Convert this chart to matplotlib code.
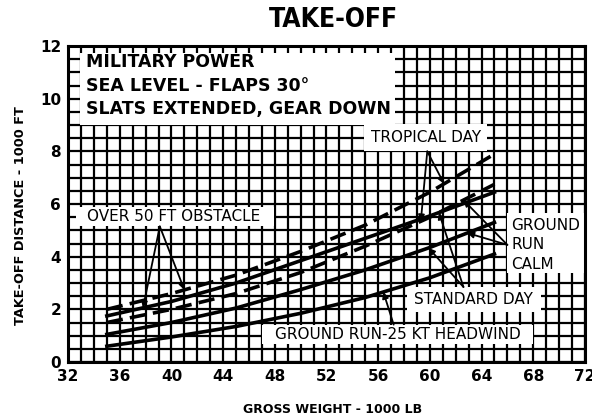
import numpy as np
import matplotlib
matplotlib.use("Agg")
import matplotlib.pyplot as plt
from matplotlib.patches import Rectangle

# ---- data ----
weight = [35, 40, 45, 50, 55, 60, 65]                 # gross weight, 1000 lb
tropical_obstacle = [2.0, 2.6, 3.3, 4.2, 5.2, 6.45, 7.9]
standard_obstacle = [1.75, 2.3, 3.0, 3.85, 4.7, 5.55, 6.45]
tropical_ground = [1.5, 2.0, 2.6, 3.4, 4.4, 5.5, 6.75]
standard_ground = [1.05, 1.5, 2.05, 2.75, 3.5, 4.35, 5.3]
headwind_ground = [0.6, 0.95, 1.35, 1.85, 2.45, 3.2, 4.1]

x_ticks = [32, 36, 40, 44, 48, 52, 56, 60, 64, 68, 72]
y_ticks = [0, 2, 4, 6, 8, 10, 12]

fig = plt.figure(figsize=(5.92, 4.19), dpi=100)
ax = fig.add_axes([0.115, 0.136, 0.873, 0.754])
ax.set_xlim(32, 72)
ax.set_ylim(0, 12)

ax.set_xticks(x_ticks)
ax.set_yticks(y_ticks)
ax.set_xticks(np.arange(32, 73, 1), minor=True)
ax.set_yticks(np.arange(0, 12.01, 0.5), minor=True)
ax.grid(True, which='both', color='black', linewidth=1.6, zorder=1)
ax.tick_params(which='both', length=0)
ax.tick_params(axis='x', pad=5)
ax.tick_params(axis='y', pad=5)
for lab in ax.get_xticklabels() + ax.get_yticklabels():
    lab.set_fontweight('bold')
    lab.set_fontsize(11)
for s in ax.spines.values():
    s.set_linewidth(2.2)
ax.set_axisbelow(True)

# white label boxes
boxes = [
    (32.9, 9.0, 24.4, 2.75),   # top-left notes
    (54.9, 8.0, 9.5, 1.05),    # TROPICAL DAY
    (32.6, 5.15, 15.3, 0.75),  # OVER 50 FT OBSTACLE
    (66.0, 3.4, 5.9, 2.25),    # GROUND RUN CALM
    (58.2, 1.9, 10.4, 0.95),   # STANDARD DAY
    (47.0, 0.7, 21.0, 0.72),   # HEADWIND
]
for (bx, by, bw, bh) in boxes:
    ax.add_patch(Rectangle((bx, by), bw, bh, facecolor='white', edgecolor='none', zorder=2))

# curves
ax.plot(weight, tropical_obstacle, color='black', lw=2.6, ls=(0, (4.5, 2)), zorder=3)
ax.plot(weight, standard_obstacle, color='black', lw=2.6, zorder=3)
ax.plot(weight, tropical_ground, color='black', lw=2.6, ls=(0, (4.5, 2)), zorder=3)
ax.plot(weight, standard_ground, color='black', lw=2.6, zorder=3)
ax.plot(weight, headwind_ground, color='black', lw=2.6, zorder=3)

def yat(xs, ys, x):
    return float(np.interp(x, xs, ys))

arrow = dict(arrowstyle='-|>', color='black', lw=1.3, mutation_scale=9, shrinkA=0, shrinkB=0)

def point(src, x, ys):
    ax.annotate('', xy=(x, yat(weight, ys, x)), xytext=src, arrowprops=arrow, zorder=4)

point((39.1, 5.15), 41.0, tropical_obstacle)
point((39.1, 5.15), 37.8, standard_obstacle)
point((59.8, 8.0), 61.1, tropical_obstacle)
point((59.8, 8.0), 59.3, tropical_ground)
point((62.6, 2.85), 60.7, standard_obstacle)
point((62.6, 2.85), 59.9, standard_ground)
point((66.0, 4.45), 62.6, tropical_ground)
point((66.0, 4.45), 62.9, standard_ground)
point((57.2, 1.42), 56.4, headwind_ground)

# texts
ax.text(33.4, 11.4, 'MILITARY POWER', fontsize=12.5, fontweight='bold', va='center', ha='left', zorder=5)
ax.text(33.4, 10.5, 'SEA LEVEL - FLAPS 30°', fontsize=12.5, fontweight='bold', va='center', ha='left', zorder=5)
ax.text(33.4, 9.62, 'SLATS EXTENDED, GEAR DOWN', fontsize=12.5, fontweight='bold', va='center', ha='left', zorder=5)
ax.text(59.7, 8.52, 'TROPICAL DAY', fontsize=11, va='center', ha='center', zorder=5)
ax.text(40.2, 5.52, 'OVER 50 FT OBSTACLE', fontsize=11, va='center', ha='center', zorder=5)
ax.text(66.3, 5.2, 'GROUND', fontsize=11, va='center', ha='left', zorder=5)
ax.text(66.3, 4.45, 'RUN', fontsize=11, va='center', ha='left', zorder=5)
ax.text(66.3, 3.7, 'CALM', fontsize=11, va='center', ha='left', zorder=5)
ax.text(63.4, 2.36, 'STANDARD DAY', fontsize=11, va='center', ha='center', zorder=5)
ax.text(57.5, 1.05, 'GROUND RUN-25 KT HEADWIND', fontsize=11, va='center', ha='center', zorder=5)

fig.text(0.5625, 0.952, 'TAKE-OFF', fontsize=19, fontweight='bold', fontstretch='condensed',
         ha='center', va='center', family=['DejaVu Sans'])
fig.text(0.034, 0.485, 'TAKE-OFF DISTANCE - 1000 FT', fontsize=9.3, fontweight='bold', rotation=90,
         ha='center', va='center')
fig.text(0.562, 0.022, 'GROSS WEIGHT - 1000 LB', fontsize=9, fontweight='bold', ha='center', va='center')

fig.savefig('out.png', dpi=100)
